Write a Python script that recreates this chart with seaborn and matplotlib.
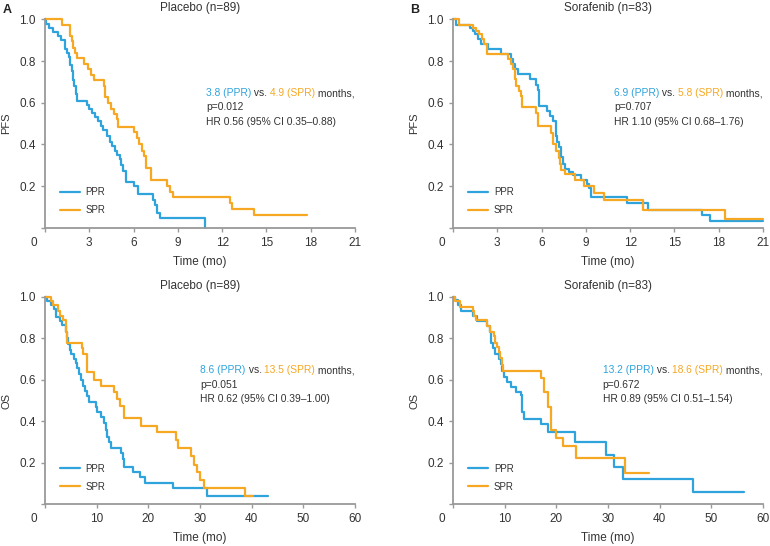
import numpy as np
import pandas as pd
import matplotlib
matplotlib.use('Agg')
import matplotlib.pyplot as plt
import seaborn as sns
from matplotlib.offsetbox import TextArea, HPacker, VPacker, AnchoredOffsetbox

# PFS, placebo arm (n=89)
pfs_pla_ppr_t = [0, 0.1, 0.3, 0.55, 0.85, 1.1, 1.35, 1.5, 1.6, 1.7, 1.8, 1.9, 2.0, 2.1, 2.2, 2.85, 3.0, 3.2, 3.4,
                 3.6, 3.8, 3.95, 4.2, 4.4, 4.55, 4.75, 4.9, 5.05, 5.15, 5.3, 5.5, 6.0, 6.3, 7.3, 7.45, 7.6, 7.8, 10.85]
pfs_pla_ppr_s = [1.0, 0.98, 0.96, 0.94, 0.92, 0.90, 0.86, 0.84, 0.82, 0.78, 0.75, 0.71, 0.68, 0.64, 0.61, 0.59, 0.57,
                 0.55, 0.53, 0.51, 0.49, 0.47, 0.44, 0.41, 0.39, 0.37, 0.35, 0.33, 0.30, 0.27, 0.22, 0.20, 0.16, 0.135,
                 0.11, 0.07, 0.045, 0.0]
pfs_pla_spr_t = [0, 1.15, 1.7, 1.8, 1.9, 2.05, 2.15, 2.65, 2.9, 3.1, 3.3, 4.0, 4.1, 4.3, 4.5, 4.7, 4.85, 4.95, 6.0,
                 6.25, 6.4, 6.55, 6.7, 6.85, 7.15, 8.25, 8.45, 8.65, 12.55, 12.7, 14.15, 17.75]
pfs_pla_spr_s = [1.0, 0.975, 0.92, 0.895, 0.865, 0.84, 0.815, 0.785, 0.76, 0.735, 0.71, 0.68, 0.625, 0.60, 0.57, 0.545,
                 0.52, 0.485, 0.46, 0.43, 0.40, 0.37, 0.345, 0.285, 0.23, 0.20, 0.17, 0.145, 0.12, 0.09, 0.06, 0.06]

# PFS, sorafenib arm (n=83)
pfs_sor_ppr_t = [0, 0.2, 1.15, 1.35, 1.5, 1.7, 1.9, 2.35, 3.25, 3.9, 4.05, 4.2, 4.4, 5.2, 5.65, 5.75, 5.85, 6.4, 6.6,
                 6.8, 6.95, 7.05, 7.15, 7.3, 7.45, 7.6, 7.85, 8.1, 8.7, 9.05, 9.2, 9.35, 11.8, 13.2, 16.9, 17.4, 21.0]
pfs_sor_ppr_s = [1.0, 0.975, 0.96, 0.945, 0.93, 0.905, 0.88, 0.86, 0.835, 0.81, 0.785, 0.76, 0.74, 0.715, 0.685, 0.66,
                 0.585, 0.56, 0.535, 0.51, 0.44, 0.41, 0.385, 0.34, 0.305, 0.28, 0.265, 0.255, 0.23, 0.21, 0.19, 0.147,
                 0.12, 0.087, 0.062, 0.03, 0.03]
pfs_sor_spr_t = [0, 0.4, 1.35, 1.55, 1.75, 1.95, 2.1, 2.3, 3.75, 3.95, 4.05, 4.2, 4.3, 4.45, 4.62, 4.7, 5.6, 5.75,
                 6.65, 6.8, 7.0, 7.15, 7.25, 7.35, 7.6, 8.25, 8.85, 9.55, 10.2, 12.9, 18.4, 21.0]
pfs_sor_spr_s = [1.0, 0.975, 0.96, 0.945, 0.93, 0.905, 0.88, 0.835, 0.81, 0.785, 0.76, 0.715, 0.68, 0.655, 0.63, 0.58,
                 0.55, 0.49, 0.455, 0.40, 0.37, 0.335, 0.305, 0.275, 0.26, 0.23, 0.2, 0.165, 0.135, 0.087, 0.043, 0.043]

# OS, placebo arm
os_pla_ppr_t = [0, 0.45, 1.2, 1.75, 2.1, 2.85, 3.2, 4.1, 4.3, 4.5, 4.8, 5.1, 5.6, 6.05, 6.25, 6.6, 6.9, 7.35, 7.7, 8.2,
                8.5, 9.8, 10.1, 10.9, 11.4, 11.8, 12.1, 12.4, 12.7, 14.8, 15.1, 15.3, 17.0, 18.4, 19.3, 24.7, 31.3, 43.2]
os_pla_ppr_s = [1.0, 0.98, 0.96, 0.94, 0.905, 0.885, 0.865, 0.83, 0.80, 0.775, 0.745, 0.725, 0.70, 0.68, 0.655, 0.63,
                0.60, 0.57, 0.545, 0.52, 0.495, 0.47, 0.445, 0.42, 0.39, 0.36, 0.325, 0.30, 0.27, 0.245, 0.22, 0.18,
                0.155, 0.13, 0.105, 0.08, 0.04, 0.04]
os_pla_spr_t = [0, 1.1, 1.55, 2.5, 3.0, 3.5, 4.0, 4.3, 7.2, 7.45, 8.05, 9.4, 10.85, 13.4, 13.9, 14.6, 15.3, 18.6, 21.6,
                25.4, 25.8, 28.2, 28.8, 29.5, 30.0, 30.8, 38.7, 40.3]
os_pla_spr_s = [1.0, 0.98, 0.96, 0.93, 0.91, 0.89, 0.83, 0.78, 0.755, 0.725, 0.64, 0.60, 0.57, 0.54, 0.51, 0.475, 0.415,
                0.38, 0.35, 0.31, 0.27, 0.235, 0.19, 0.155, 0.115, 0.078, 0.04, 0.04]

# OS, sorafenib arm
os_sor_ppr_t = [0, 0.45, 1.0, 1.6, 3.8, 4.65, 6.6, 7.1, 7.35, 7.7, 8.2, 8.85, 9.2, 9.5, 9.8, 10.45, 11.3, 12.1, 13.2,
                13.35, 13.7, 17.0, 18.4, 23.7, 29.7, 31.2, 33.0, 46.5, 56.4]
os_sor_ppr_s = [1.0, 0.985, 0.96, 0.93, 0.91, 0.885, 0.86, 0.83, 0.78, 0.755, 0.725, 0.70, 0.675, 0.645, 0.615, 0.59,
                0.565, 0.54, 0.525, 0.445, 0.413, 0.385, 0.35, 0.30, 0.24, 0.18, 0.12, 0.06, 0.06]
os_sor_spr_t = [0, 0.45, 1.4, 3.8, 4.1, 4.45, 6.6, 7.1, 7.85, 8.2, 8.5, 8.85, 9.15, 9.45, 9.7, 17.1, 17.6, 18.4, 18.9,
                20.0, 21.3, 23.9, 33.3, 37.9]
os_sor_spr_s = [1.0, 0.98, 0.95, 0.93, 0.91, 0.89, 0.86, 0.83, 0.81, 0.78, 0.76, 0.735, 0.705, 0.67, 0.643, 0.61, 0.54,
                0.47, 0.36, 0.32, 0.28, 0.225, 0.15, 0.15]

titles = ['Placebo (n=89)', 'Sorafenib (n=83)', 'Placebo (n=89)', 'Sorafenib (n=83)']
ylabels = ['PFS', 'PFS', 'OS', 'OS']
median_ppr = ['3.8', '6.9', '8.6', '13.2']
median_spr = ['4.9', '5.8', '13.5', '18.6']
p_values = ['0.012', '0.707', '0.051', '0.672']
hr_text = ['0.56 (95% CI 0.35\u20130.88)', '1.10 (95% CI 0.68\u20131.76)',
           '0.62 (95% CI 0.39\u20131.00)', '0.89 (95% CI 0.51\u20131.54)']
pfs_ticks = list(range(0, 22, 3))
os_ticks = list(range(0, 61, 10))
y_ticks = [0, 0.2, 0.4, 0.6, 0.8, 1.0]

sns.set_theme(style='ticks')
plt.rcParams['font.family'] = ['Liberation Sans', 'DejaVu Sans']

BLUE = '#2ea3dc'
ORANGE = '#f6a822'
SPINE = '#999999'
TXT = '#333333'


def km_panel(ax, ppr_t, ppr_s, spr_t, spr_s, xticks, i):
    df = pd.concat([pd.DataFrame({'time': ppr_t, 'surv': ppr_s, 'group': 'PPR'}),
                    pd.DataFrame({'time': spr_t, 'surv': spr_s, 'group': 'SPR'})], ignore_index=True)
    sns.lineplot(data=df, x='time', y='surv', hue='group', palette={'PPR': BLUE, 'SPR': ORANGE},
                 estimator=None, sort=False, drawstyle='steps-post', lw=1.6, ax=ax)
    for ln in ax.lines:
        ln.set_clip_on(False)

    ax.set_xlim(0, xticks[-1])
    ax.set_ylim(0, 1.0)
    ax.set_xticks(xticks)
    ax.set_xticklabels([''] + [str(t) for t in xticks[1:]])
    ax.set_yticks(y_ticks)
    ax.set_yticklabels([''] + ['%.1f' % v for v in y_ticks[1:]])
    ax.tick_params(direction='out', length=3, width=1, color=SPINE, labelsize=8.5, labelcolor=TXT, pad=3.5)
    # origin label sits left of the corner
    ax.annotate('0', xy=(0, 0), xycoords='axes fraction', xytext=(-11, -9.1), textcoords='offset pixels',
                ha='center', va='top', fontsize=8.5, color=TXT)
    for side in ['top', 'right']:
        ax.spines[side].set_visible(False)
    for side in ['left', 'bottom']:
        ax.spines[side].set_color(SPINE)
        ax.spines[side].set_linewidth(1.3)

    ax.set_title(titles[i], fontsize=8.5, color=TXT, pad=6)
    ax.set_xlabel('Time (mo)', fontsize=8.5, color=TXT, labelpad=5)
    ax.set_ylabel(ylabels[i], fontsize=8, color=TXT, labelpad=6)

    handles, labels = ax.get_legend_handles_labels()
    ax.legend(handles, labels, loc='lower left', bbox_to_anchor=(0.05, 0.06), frameon=False, fontsize=7,
              handlelength=2.0, handletextpad=0.6, labelspacing=0.85, borderpad=0, borderaxespad=0,
              labelcolor=TXT)

    fs = 7.4
    line1 = HPacker(children=[TextArea(median_ppr[i] + ' (PPR)', textprops=dict(color=BLUE, size=fs)),
                              TextArea(' vs. ', textprops=dict(color=TXT, size=fs)),
                              TextArea(median_spr[i] + ' (SPR)', textprops=dict(color=ORANGE, size=fs)),
                              TextArea(' months,', textprops=dict(color=TXT, size=fs))], pad=0, sep=0)
    line2 = TextArea('p=' + p_values[i], textprops=dict(color=TXT, size=fs))
    line3 = TextArea('HR ' + hr_text[i], textprops=dict(color=TXT, size=fs))
    box = VPacker(children=[line1, line2, line3], align='left', pad=0, sep=3)
    anchored = AnchoredOffsetbox(loc='center right', child=box, pad=0, borderpad=0, frameon=False,
                                 bbox_to_anchor=(1.0, 0.577), bbox_transform=ax.transAxes)
    ax.add_artist(anchored)


fig = plt.figure(figsize=(7.7, 5.46), dpi=100)
ax_a = fig.add_axes([0.0584, 0.583, 0.4026, 0.3815])
ax_b = fig.add_axes([0.5883, 0.583, 0.4026, 0.3815])
ax_c = fig.add_axes([0.0584, 0.0764, 0.4026, 0.3797])
ax_d = fig.add_axes([0.5883, 0.0764, 0.4026, 0.3797])

km_panel(ax_a, pfs_pla_ppr_t, pfs_pla_ppr_s, pfs_pla_spr_t, pfs_pla_spr_s, pfs_ticks, 0)
km_panel(ax_b, pfs_sor_ppr_t, pfs_sor_ppr_s, pfs_sor_spr_t, pfs_sor_spr_s, pfs_ticks, 1)
km_panel(ax_c, os_pla_ppr_t, os_pla_ppr_s, os_pla_spr_t, os_pla_spr_s, os_ticks, 2)
km_panel(ax_d, os_sor_ppr_t, os_sor_ppr_s, os_sor_spr_t, os_sor_spr_s, os_ticks, 3)

fig.text(0.003, 0.993, 'A', fontsize=9, fontweight='bold', va='top', ha='left', color='#222222')
fig.text(0.532, 0.993, 'B', fontsize=9, fontweight='bold', va='top', ha='left', color='#222222')

plt.savefig('out.png', dpi=100)
